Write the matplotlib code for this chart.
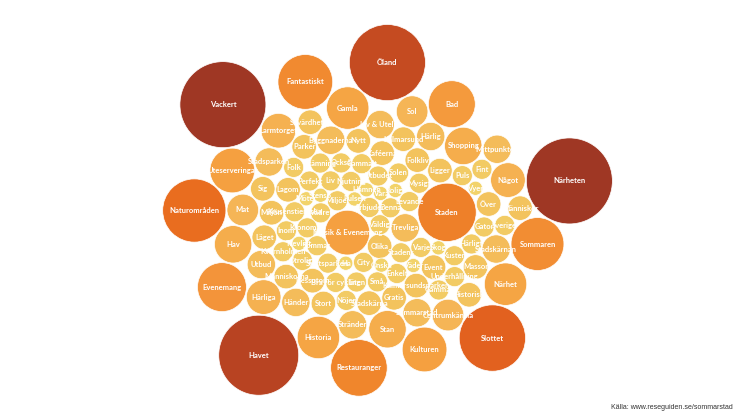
import numpy as np
import matplotlib.pyplot as plt
from matplotlib.colors import LinearSegmentedColormap
from matplotlib.patches import Circle

# words and how often they were mentioned
words = [
    "Vackert", "Närheten", "Havet", "Öland", "Slottet", "Naturområden",
    "Staden", "Restauranger", "Fantastiskt", "Sommaren", "Evenemang", "Bad",
    "Kulturen", "Uteserveringar", "Musik & Evenemang", "Historia", "Gamla",
    "Närhet", "Hav", "Shopping", "Stan", "Larmtorget", "Något", "Härliga",
    "Sol", "Centrumkänsla", "Mat", "Trevliga", "Stränder", "Byggnaderna",
    "Stadskärnan", "Utbud", "Härlig", "Sommarstad", "Stadsparken",
    "Mittpunkten", "Händer", "Liv & Uteliv", "Historisk", "Miljön", "Ligger",
    "Stadskärna", "Sevärdheter", "Människor", "Människorna", "Kalmarsund",
    "Kalmarsundsparken", "Sig", "Olika", "Stort", "Nytt", "Massor", "Läget",
    "Folkliv", "Gratis", "Parker", "Över", "Dessutom", "Kaféerna", "Event",
    "Lagom", "Levande", "Liten", "Miljöer", "Härligt", "Otroligt", "Erbjuder",
    "Enkelt", "Folk", "Fint", "Bra för cykling", "Gammalt", "Gammal", "Inom",
    "Mysigt", "Små", "Stämning", "Sverige", "Sommar", "Utbudet", "Varje",
    "Vädret", "Väldigt", "Nöjen", "Också", "Kusten", "Kvarnholmen", "Solen",
    "Stadens", "Perfekt", "Puls", "Slottsparken", "Njutning", "Underhållning",
    "Krusenstiernska", "Denna", "City", "Liv", "Gator", "Kronoman",
    "Vara", "Väder", "Möter", "Hamnen", "Ha", "Pulsen", "Skog", "Trevligt",
    "Roligt", "Önska", "Stensö", "Vyer",
]
counts = [
    37, 37, 32, 29, 22, 20,
    17, 16, 15, 14, 12, 11,
    10, 10, 10, 9, 9,
    9, 7, 7, 7, 6, 6, 6,
    5, 5, 5, 4, 4, 4,
    4, 4, 4, 4, 4,
    4, 4, 4, 3, 3, 3,
    3, 3, 3, 3, 3,
    3, 3, 3, 3, 3, 3, 3,
    3, 3, 3, 3, 3, 3, 3,
    3, 2, 2, 2, 2, 2, 2,
    2, 2, 2, 2, 2, 2, 2,
    2, 2, 2, 2, 2, 2, 2,
    2, 2, 2, 2, 2, 2, 2,
    2, 2, 2, 2, 2, 2,
    2, 2, 2, 2, 2, 2,
    1, 1, 1, 1, 1, 1, 1, 1,
    1, 1, 1, 1,
]
source = "Källa: www.reseguiden.se/sommarstad"

W, H = 746, 420
CX, CY = 372, 222


def pack(radii, steps=700, pad=1.2):
    # force-style packing, deterministic start on a golden-angle spiral
    n = len(radii)
    rank = np.argsort(np.argsort(-radii))
    ang = np.deg2rad(217 + rank * 137.508)
    u = (rank * 0.6180339887 + 0.35) % 1.0
    dist = 200 * np.sqrt(u)
    dist[rank < 6] = 210
    x = CX + 1.2 * dist * np.cos(ang)
    y = CY + dist * np.sin(ang)
    grav = (12.0 / radii) ** 0.3
    eye = np.eye(n)
    for step in range(steps):
        a = 0.03 * (1 - step / steps) + 0.002
        x += (CX - x) * a * grav * 0.65
        y += (CY - y) * a * grav
        for _ in range(4):
            dx = x[:, None] - x[None, :]
            dy = y[:, None] - y[None, :]
            d = np.hypot(dx, dy) + eye
            over = radii[:, None] + radii[None, :] + pad - d
            over[eye == 1] = 0
            over = np.clip(over, 0, None)
            push = 0.5 * over / d
            x += (push * dx).sum(1) * 0.5
            y += (push * dy).sum(1) * 0.5
    return x, y


counts_arr = np.array(counts, dtype=float)
radii = 43 * np.sqrt(counts_arr / counts_arr.max())
xs, ys = pack(radii)

cmap = LinearSegmentedColormap.from_list("sommar", [
    (0.0, "#f2d36a"), (2 / 36, "#f3c35d"), (4 / 36, "#f5b556"),
    (6 / 36, "#f5ad4c"), (9 / 36, "#f5a040"), (11 / 36, "#f3943a"),
    (15 / 36, "#f0862c"), (19 / 36, "#e96d1f"), (21 / 36, "#e2611f"),
    (28 / 36, "#c54b21"), (31 / 36, "#b84322"), (1.0, "#9f3724"),
])

fig = plt.figure(figsize=(W / 100, H / 100), dpi=100)
ax = fig.add_axes([0, 0, 1, 1])
ax.set_xlim(0, W)
ax.set_ylim(H, 0)
ax.axis('off')

for x, y, r, c in zip(xs, ys, radii, counts):
    ax.add_patch(Circle((x, y), r, facecolor=cmap((c - 1) / 36),
                        edgecolor='white', linewidth=0.5))
for x, y, w in zip(xs, ys, words):
    ax.text(x, y, w, ha='center', va='center', color='white',
            fontsize=5.5, fontweight='bold', family=['Lato', 'DejaVu Sans'])

fig.text(733 / W, 0.03, source, ha='right', va='center', fontsize=5,
         color='#333333', family=['Liberation Sans', 'DejaVu Sans'])

fig.savefig('out.png', dpi=100)
